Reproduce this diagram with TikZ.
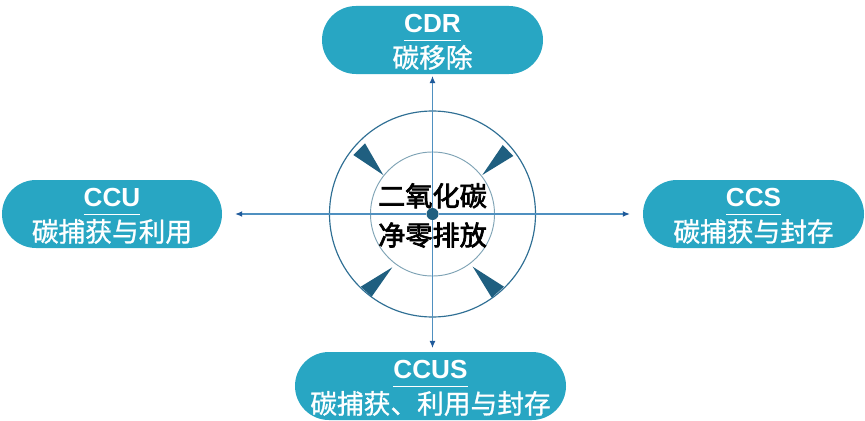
\documentclass[tikz,border=0pt]{standalone}
\usepackage{fontspec}
\setmainfont{Noto Sans CJK SC}
\newfontfamily\titlefont{Liberation Sans}
\newfontfamily\pillfont[FakeBold=1]{Noto Sans CJK SC}
\newfontfamily\goalfont[FakeBold=2.5]{Noto Sans CJK SC}
\usetikzlibrary{arrows.meta}

\definecolor{pillblue}{HTML}{28A6C3}
\definecolor{wedgeblue}{HTML}{1F5F80}
\definecolor{axisblue}{HTML}{4F90C0}
\definecolor{tipblue}{HTML}{1F5A9A}
\definecolor{ringblue}{HTML}{2F6F94}
\definecolor{innerblue}{HTML}{7FA3B5}

\tikzset{
  pill/.style={fill=pillblue, text=white, rounded corners=1.02cm, minimum height=2.04cm, inner sep=0pt,
    align=center, font=\fontsize{22.8}{30}\pillfont},
  axisline/.style={draw=axisblue, line width=1pt, -{Latex[length=6pt,width=5pt,color=tipblue]}},
  wedge/.style={fill=wedgeblue},
}
\newcommand{\pilltitle}[1]{\underline{\fontsize{22.3}{30}\titlefont\bfseries #1\rule[-5pt]{0pt}{24pt}}}

\begin{document}
\begin{tikzpicture}[x=0.03cm, y=-0.03cm]
\useasboundingbox (0,0) rectangle (865,421);

% rings
\node[circle, draw=ringblue, line width=1pt, minimum size=6.18cm, inner sep=0pt](outerring) at (432.5,214) {};
\node[circle, draw=innerblue, line width=0.8pt, minimum size=3.72cm, inner sep=0pt](innerring) at (432.5,214) {};

% wedges
\fill[wedge] (383.3,175) -- (353.3,155) -- (365,143.3) -- cycle;
\fill[wedge] (482.3,175) -- (502.7,145) -- (513.3,156) -- cycle;
\fill[wedge] (392.3,267.3) -- (360.7,286.7) -- (371.7,296.7) -- cycle;
\fill[wedge] (472.7,266.7) -- (491.7,297.7) -- (504,286.7) -- cycle;

% pills
\node[pill, minimum width=6.63cm](cdr) at (432.5,40) {\pilltitle{CDR}\\碳移除};
\node[pill, minimum width=6.6cm](ccu) at (112,214) {\pilltitle{CCU}\\碳捕获与利用};
\node[pill, minimum width=6.63cm](ccs) at (753.5,214) {\pilltitle{CCS}\\碳捕获与封存};
\node[pill, minimum width=8.13cm](ccus) at (430.5,386) {\pilltitle{CCUS}\\碳捕获、利用与封存};

% centre
\node[circle, fill=wedgeblue, minimum size=0.36cm, inner sep=0pt](hub) at (432.5,214) {};

% arrows
\draw[axisline, shorten >=1.5pt] (hub) -- (cdr);
\draw[axisline, shorten >=11pt] (hub) -- (ccu);
\draw[axisline, shorten >=11pt] (hub) -- (ccs);
\coordinate (ccusend) at (432.5,348);
\draw[axisline] (hub) -- (ccusend);

\node[align=center, font=\fontsize{23.2}{33.5}\goalfont](goal) at (432.5,215.5) {二氧化碳\\净零排放};
\end{tikzpicture}
\end{document}
